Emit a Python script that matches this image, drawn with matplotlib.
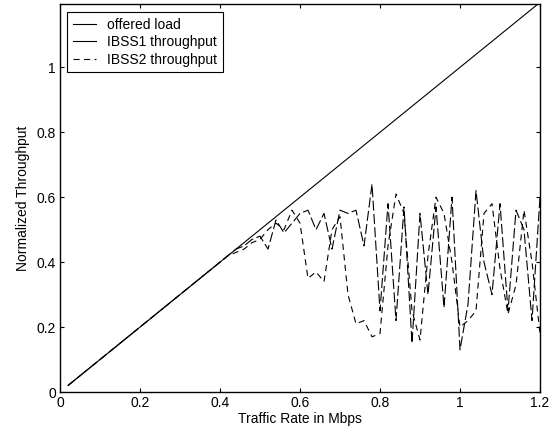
import matplotlib
matplotlib.use("Agg")
import matplotlib.pyplot as plt
from matplotlib.lines import Line2D

plt.rcParams['font.family'] = ['Liberation Sans', 'DejaVu Sans']
plt.rcParams['font.size'] = 10

# traffic rate (Mbps)
rate = [0.02, 0.04, 0.06, 0.08, 0.10, 0.12, 0.14, 0.16, 0.18, 0.20,
        0.22, 0.24, 0.26, 0.28, 0.30, 0.32, 0.34, 0.36, 0.38, 0.40,
        0.42, 0.44, 0.46, 0.48, 0.50, 0.52, 0.54, 0.56, 0.58, 0.60,
        0.62, 0.64, 0.66, 0.68, 0.70, 0.72, 0.74, 0.76, 0.78, 0.80,
        0.82, 0.84, 0.86, 0.88, 0.90, 0.92, 0.94, 0.96, 0.98, 1.00,
        1.02, 1.04, 1.06, 1.08, 1.10, 1.12, 1.14, 1.16, 1.18, 1.20]

offered = [0.02, 0.04, 0.06, 0.08, 0.10, 0.12, 0.14, 0.16, 0.18, 0.20,
           0.22, 0.24, 0.26, 0.28, 0.30, 0.32, 0.34, 0.36, 0.38, 0.40,
           0.42, 0.44, 0.46, 0.48, 0.50, 0.52, 0.54, 0.56, 0.58, 0.60,
           0.62, 0.64, 0.66, 0.68, 0.70, 0.72, 0.74, 0.76, 0.78, 0.80,
           0.82, 0.84, 0.86, 0.88, 0.90, 0.92, 0.94, 0.96, 0.98, 1.00,
           1.02, 1.04, 1.06, 1.08, 1.10, 1.12, 1.14, 1.16, 1.18, 1.20]

ibss1 = [0.02, 0.04, 0.06, 0.08, 0.10, 0.12, 0.14, 0.16, 0.18, 0.20,
         0.22, 0.24, 0.26, 0.28, 0.30, 0.32, 0.34, 0.36, 0.38, 0.40,
         0.42, 0.44, 0.45, 0.47, 0.48, 0.44, 0.53, 0.49, 0.52, 0.55,
         0.56, 0.50, 0.55, 0.44, 0.56, 0.55, 0.56, 0.45, 0.64, 0.25,
         0.58, 0.22, 0.57, 0.15, 0.55, 0.30, 0.57, 0.26, 0.60, 0.13,
         0.27, 0.62, 0.40, 0.30, 0.58, 0.25, 0.56, 0.50, 0.22, 0.60]

ibss2 = [0.02, 0.04, 0.06, 0.08, 0.10, 0.12, 0.14, 0.16, 0.18, 0.20,
         0.22, 0.24, 0.26, 0.28, 0.30, 0.32, 0.34, 0.36, 0.38, 0.40,
         0.42, 0.43, 0.44, 0.46, 0.47, 0.50, 0.52, 0.50, 0.56, 0.52,
         0.35, 0.37, 0.34, 0.50, 0.54, 0.30, 0.21, 0.22, 0.17, 0.18,
         0.45, 0.61, 0.55, 0.25, 0.16, 0.42, 0.60, 0.55, 0.40, 0.20,
         0.22, 0.25, 0.55, 0.58, 0.38, 0.24, 0.33, 0.56, 0.40, 0.18]

fig = plt.figure(figsize=(5.53, 4.36), dpi=100)
ax = fig.add_axes([0.1085, 0.1009, 0.8680, 0.8899])

ax.plot(rate, offered, color='black', lw=0.8)
ax.plot(rate, ibss1, color='black', lw=0.8, linestyle=(0, (9, 3)))
ax.plot(rate, ibss2, color='black', lw=0.8, linestyle=(0, (5.5, 4)))

ax.set_xlim(0, 1.2)
ax.set_ylim(0, 1.195)
ax.set_xticks([0, 0.2, 0.4, 0.6, 0.8, 1, 1.2])
ax.set_xticklabels(['0', '0.2', '0.4', '0.6', '0.8', '1', '1.2'])
ax.set_yticks([0, 0.2, 0.4, 0.6, 0.8, 1])
ax.set_yticklabels(['0', '0.2', '0.4', '0.6', '0.8', '1'])
ax.tick_params(direction='in', length=3, width=0.8, top=True, right=True, pad=3)
for s in ax.spines.values():
    s.set_linewidth(1.0)

ax.set_xlabel('Traffic Rate in Mbps', labelpad=1)
ax.set_ylabel('Normalized Throughput', labelpad=5)

handles = [Line2D([], [], color='black', lw=0.8),
           Line2D([], [], color='black', lw=0.8),
           Line2D([], [], color='black', lw=0.8, linestyle=(0, (5.5, 4)))]
leg = ax.legend(handles, ['offered load', 'IBSS1 throughput', 'IBSS2 throughput'],
                loc='upper left', bbox_to_anchor=(0.0146, 0.979), borderaxespad=0,
                fancybox=False, edgecolor='black', framealpha=1,
                handlelength=1.7, handletextpad=0.8, labelspacing=0.25,
                borderpad=0.4, fontsize=10)
leg.get_frame().set_linewidth(0.8)

fig.savefig('out.png', dpi=100)
